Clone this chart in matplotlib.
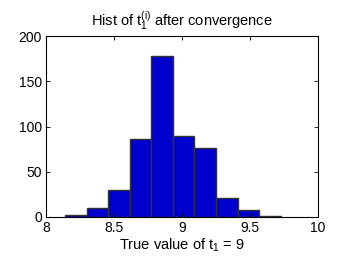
import matplotlib
matplotlib.use("Agg")
import matplotlib.pyplot as plt
import numpy as np

plt.rcParams["font.family"] = ["Liberation Sans", "DejaVu Sans"]
plt.rcParams["mathtext.fontset"] = "custom"
plt.rcParams["mathtext.rm"] = "Liberation Sans"
plt.rcParams["mathtext.it"] = "Liberation Sans"

# histogram
bin_lo = 8.14
bin_width = 0.1586
counts = [2, 10, 30, 86, 178, 89, 76, 21, 8, 1]
xticks = [8, 8.5, 9, 9.5, 10]
yticks = [0, 50, 100, 150, 200]

centers = bin_lo + bin_width * (np.arange(len(counts)) + 0.5)

fig = plt.figure(figsize=(3.51, 2.63), dpi=100)
ax = fig.add_axes([46 / 351, 1 - 217 / 263, 272 / 351, 181 / 263])
ax.bar(centers, counts, width=bin_width, color="#0000CC",
       edgecolor="#333333", linewidth=1.0)

ax.set_xlim(8, 10)
ax.set_ylim(0, 200)
ax.set_xticks(xticks)
ax.set_xticklabels(["8", "8.5", "9", "9.5", "10"])
ax.set_yticks(yticks)
ax.tick_params(direction="in", top=True, right=True, labelsize=10,
               length=3, width=0.6, pad=3)
for s in ax.spines.values():
    s.set_linewidth(0.8)

ax.set_title("Hist of $\\mathrm{t_1^{(i)}}$ after convergence", fontsize=10.5, pad=7)
ax.set_xlabel("True value of $\\mathrm{t_1}$ = 9", fontsize=10.5, labelpad=1)

fig.savefig("out.png", dpi=100)
